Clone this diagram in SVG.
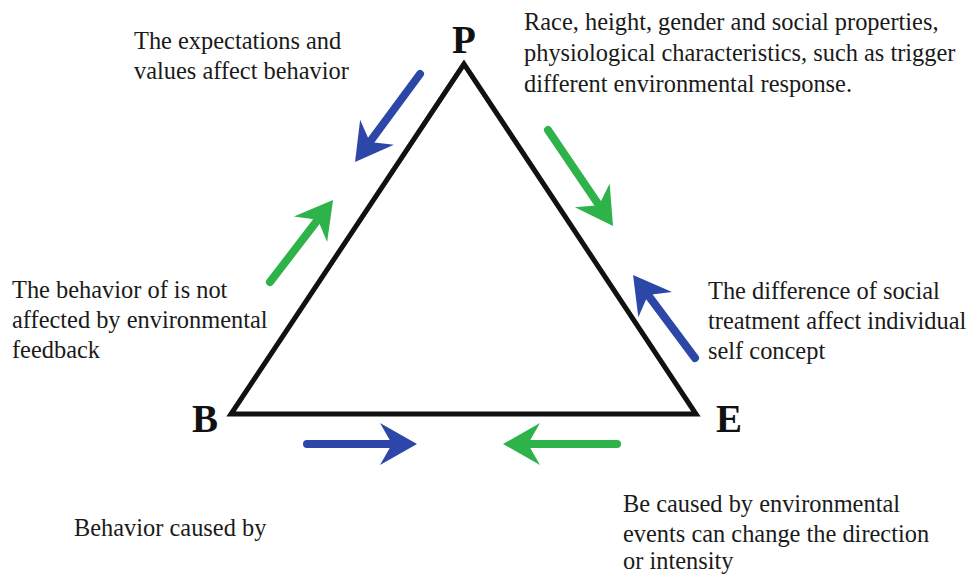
<svg xmlns="http://www.w3.org/2000/svg" width="968" height="574" viewBox="0 0 968 574">
<style>
.t{font-family:"Liberation Serif","Times New Roman",serif;font-size:24.4px;fill:#1a1a1a}
.v{font-family:"Liberation Serif","Times New Roman",serif;font-size:39px;font-weight:bold;fill:#111}
.b{stroke:#2c47a8;stroke-width:8;stroke-linecap:round;fill:none}
.g{stroke:#2db34a;stroke-width:8;stroke-linecap:round;fill:none}
</style>
<defs>
<marker id="hb" markerUnits="userSpaceOnUse" orient="auto" refX="0" refY="0" markerWidth="80" markerHeight="80" viewBox="-40 -40 80 80" overflow="visible">
<path d="M25,0 L-12,-21 L0,0 L-12,21 Z" fill="#2c47a8"/>
</marker>
<marker id="hg" markerUnits="userSpaceOnUse" orient="auto" refX="0" refY="0" markerWidth="80" markerHeight="80" viewBox="-40 -40 80 80" overflow="visible">
<path d="M25,0 L-12,-21 L0,0 L-12,21 Z" fill="#2db34a"/>
</marker>
</defs>
<rect width="968" height="574" fill="#fff"/>
<g id="triangle">
<polygon points="464,64 231,414 696,414" fill="none" stroke="#111" stroke-width="5" stroke-linejoin="miter"/>
</g>
<g id="connectors">
<line class="b" x1="420" y1="74" x2="369.9" y2="141.9" marker-end="url(#hb)"/>
<line class="g" x1="270" y1="282" x2="317.8" y2="219.8" marker-end="url(#hg)"/>
<line class="g" x1="548" y1="130" x2="599" y2="205.3" marker-end="url(#hg)"/>
<line class="b" x1="695" y1="358" x2="648" y2="295" marker-end="url(#hb)"/>
<line class="b" x1="307" y1="444" x2="392" y2="444" marker-end="url(#hb)"/>
<line class="g" x1="617" y1="444" x2="528" y2="444" marker-end="url(#hg)"/>
</g>
<g id="node-P"><text class="v" x="452" y="53">P</text></g>
<g id="node-B"><text class="v" x="192" y="432">B</text></g>
<g id="node-E"><text class="v" x="716" y="432">E</text></g>
<g id="label-PB">
<text class="t" x="134" y="49">The expectations and</text>
<text class="t" x="134" y="79">values affect behavior</text>
</g>
<g id="label-PE">
<text class="t" x="524" y="30">Race, height, gender and social properties,</text>
<text class="t" x="524" y="61">physiological characteristics, such as trigger</text>
<text class="t" x="524" y="92">different environmental response.</text>
</g>
<g id="label-B">
<text class="t" x="12" y="298">The behavior of is not</text>
<text class="t" x="12" y="328">affected by environmental</text>
<text class="t" x="12" y="358">feedback</text>
</g>
<g id="label-E">
<text class="t" x="708" y="299">The difference of social</text>
<text class="t" x="708" y="329">treatment affect individual</text>
<text class="t" x="708" y="359">self concept</text>
</g>
<g id="label-BE">
<text class="t" x="74" y="536">Behavior caused by</text>
</g>
<g id="label-EB">
<text class="t" x="623" y="512">Be caused by environmental</text>
<text class="t" x="623" y="542">events can change the direction</text>
<text class="t" x="623" y="569">or intensity</text>
</g>
</svg>
